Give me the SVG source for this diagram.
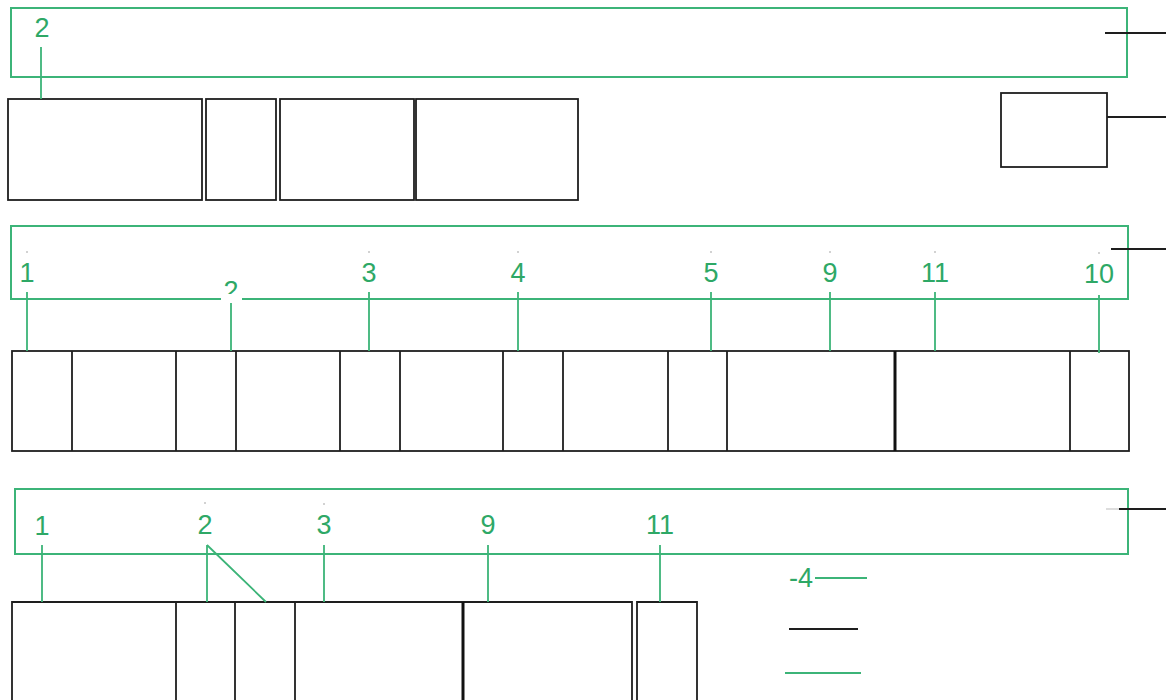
<svg xmlns="http://www.w3.org/2000/svg" width="1166" height="700" viewBox="0 0 1166 700">
<style>
.g{fill:none;stroke:#3cb478;stroke-width:2}
.gl{stroke:#3cb478;stroke-width:1.8;fill:none}
.b{fill:none;stroke:#1e1e1e;stroke-width:1.8}
.bt{fill:none;stroke:#111;stroke-width:3}
.t{font-family:"Liberation Sans",Arial,sans-serif;font-size:27px;fill:#2ea866;text-anchor:middle}
.d{fill:#9a9a9a}
</style>
<rect width="1166" height="700" fill="#fff"/>
<g id="top">
  <rect id="top-frame" class="g" x="11" y="8" width="1116" height="69"/>
  <g id="top-boxes">
    <rect class="b" x="8" y="99" width="194" height="101"/>
    <rect class="b" x="206" y="99" width="70" height="101"/>
    <rect class="b" x="280" y="99" width="134" height="101"/>
    <rect class="b" x="416" y="99" width="162" height="101"/>
  </g>
  <rect id="top-small" class="b" x="1001" y="93" width="106" height="74"/>
  <text class="t" x="42" y="37">2</text>
</g>
<g id="mid">
  <rect id="mid-frame" class="g" x="11" y="226" width="1117" height="73"/>
  <g id="mid-boxes">
    <rect class="b" x="12" y="351" width="1117" height="100"/>
    <path class="b" d="M72 351V451M176 351V451M236 351V451M340 351V451M400 351V451M503 351V451M563 351V451M668 351V451M727 351V451M1070 351V451"/>
    <path class="bt" d="M895 351V451"/>
  </g>
  <text class="t" x="27" y="282">1</text>
  <text class="t" x="231" y="300">2</text>
  <rect x="221" y="294" width="21" height="9" fill="#fff"/>
  <text class="t" x="369" y="282">3</text>
  <text class="t" x="518" y="282">4</text>
  <text class="t" x="711" y="282">5</text>
  <text class="t" x="830" y="282">9</text>
  <text class="t" x="935" y="282">11</text>
  <text class="t" x="1099" y="283">10</text>
  <g class="d">
    <circle cx="27" cy="252" r="0.8"/><circle cx="369" cy="252" r="0.8"/><circle cx="518" cy="252" r="0.8"/>
    <circle cx="711" cy="252" r="0.8"/><circle cx="830" cy="252" r="0.8"/><circle cx="935" cy="252" r="0.8"/><circle cx="1099" cy="253" r="0.8"/>
  </g>
</g>
<g id="bot">
  <rect id="bot-frame" class="g" x="15" y="489" width="1113" height="65"/>
  <g id="bot-boxes">
    <path class="b" d="M12 702V602H632V702M176 602V702M235 602V702M295 602V702"/>
    <path class="bt" d="M463 602V702"/>
    <path class="b" d="M637 702V602H697V702"/>
  </g>
  <text class="t" x="42" y="535">1</text>
  <text class="t" x="205" y="534">2</text>
  <text class="t" x="324" y="534">3</text>
  <text class="t" x="488" y="534">9</text>
  <text class="t" x="660" y="534">11</text>
  <g class="d"><circle cx="205" cy="503" r="0.8"/><circle cx="324" cy="504" r="0.8"/></g>
  <text class="t" x="801" y="587">-4</text>
</g>
<g id="connectors">
  <path class="gl" d="M41 47V99"/>
  <path d="M1105 33H1166M1107 117H1166M1111 249H1166M1119 509H1166M789 629H858" stroke="#1e1e1e" stroke-width="1.8" fill="none"/>
  <path d="M1106 509H1119" stroke="#bbb" stroke-width="1" fill="none"/>
  <path class="gl" d="M27 292V351M231 303V351M369 292V351M518 292V351M711 292V351M830 292V351M935 292V351M1099 295V353"/>
  <path class="gl" d="M42 545V602M207 545V602M207 545L266 602M324 545V602M488 545V602M660 545V602"/>
  <path class="gl" d="M815 578H867M785 673H861"/>
</g>
</svg>
